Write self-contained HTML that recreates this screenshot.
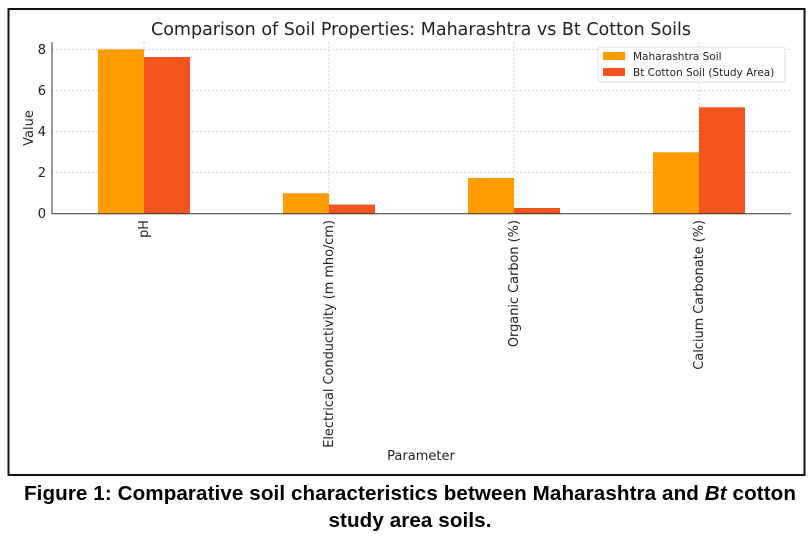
<!DOCTYPE html>
<html><head><meta charset="utf-8"><style>
body{margin:0;background:#fff;width:812px;height:538px;overflow:hidden}
svg{position:absolute;left:0;top:0}
.cap{position:absolute;left:4px;width:812px;text-align:center;font-family:"Liberation Sans",sans-serif;font-weight:bold;font-size:20.6px;color:#000;line-height:27px;letter-spacing:0.1px;white-space:nowrap}
</style></head><body>
<svg width="812" height="538" xmlns="http://www.w3.org/2000/svg" font-family="DejaVu Sans, sans-serif">
<rect x="8.5" y="9" width="796" height="466" fill="#fff" stroke="#111" stroke-width="2"/>
<text x="421" y="35" font-size="17.5" text-anchor="middle" fill="#222">Comparison of Soil Properties: Maharashtra vs Bt Cotton Soils</text>
<g stroke="#ccc" stroke-dasharray="2,2" stroke-width="0.8">
<line x1="52" x2="791" y1="49.3" y2="49.3"/><line x1="52" x2="791" y1="90.4" y2="90.4"/><line x1="52" x2="791" y1="131.5" y2="131.5"/><line x1="52" x2="791" y1="172.6" y2="172.6"/>
<line x1="144" x2="144" y1="42" y2="214"/><line x1="329" x2="329" y1="42" y2="214"/><line x1="514" x2="514" y1="42" y2="214"/><line x1="699" x2="699" y1="42" y2="214"/>
</g>
<g fill="#FF9C00">
<rect x="98" y="49.3" width="46" height="164.4"/>
<rect x="283" y="193.2" width="46" height="20.5"/>
<rect x="468" y="178" width="46" height="35.7"/>
<rect x="653" y="152.3" width="46" height="61.4"/>
</g>
<g fill="#F3531C">
<rect x="144" y="57" width="46" height="156.7"/>
<rect x="329" y="204.5" width="46" height="9.2"/>
<rect x="514" y="208" width="46" height="5.7"/>
<rect x="699" y="107.3" width="46" height="106.4"/>
</g>
<line x1="52" x2="52" y1="42" y2="214" stroke="#333" stroke-width="1"/>
<line x1="52" x2="791" y1="213.7" y2="213.7" stroke="#333" stroke-width="1"/>
<g font-size="13" fill="#222" text-anchor="end">
<text x="46" y="54">8</text><text x="46" y="95">6</text><text x="46" y="136">4</text><text x="46" y="177">2</text><text x="46" y="218">0</text>
</g>
<text transform="translate(33,128) rotate(-90)" font-size="13" text-anchor="middle" fill="#222">Value</text>
<g font-size="12.9" fill="#222" text-anchor="end">
<text transform="translate(148,220) rotate(-90)">pH</text>
<text transform="translate(333,220) rotate(-90)">Electrical Conductivity (m mho/cm)</text>
<text transform="translate(518,220) rotate(-90)">Organic Carbon (%)</text>
<text transform="translate(703,220) rotate(-90)">Calcium Carbonate (%)</text>
</g>
<text x="421" y="460" font-size="13" text-anchor="middle" fill="#222">Parameter</text>
<rect x="598" y="47" width="187" height="35" fill="#fff" stroke="#ddd" rx="2"/>
<rect x="603" y="52" width="22" height="8" fill="#FF9C00"/>
<rect x="603" y="68" width="22" height="8" fill="#F3531C"/>
<text x="633" y="60" font-size="10.5" fill="#222">Maharashtra Soil</text>
<text x="633" y="76" font-size="10.5" fill="#222">Bt Cotton Soil (Study Area)</text>
</svg>
<div class="cap" style="top:480px">Figure 1: Comparative soil characteristics between Maharashtra and <i>Bt</i> cotton</div>
<div class="cap" style="top:507px">study area soils.</div>
</body></html>
